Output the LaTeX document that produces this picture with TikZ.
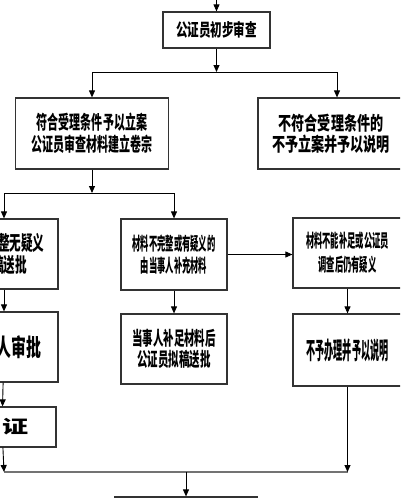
\documentclass[tikz,border=0pt]{standalone}
\usepackage{fontspec}
\usetikzlibrary{arrows.meta}
\newfontfamily\fA[FakeStretch=0.66]{Noto Sans CJK SC}
\newfontfamily\fB[FakeStretch=0.58]{Noto Sans CJK SC}
\newfontfamily\fC[FakeStretch=0.69]{Noto Sans CJK SC}
\newfontfamily\fD[FakeStretch=0.58]{Noto Sans CJK SC}
\newfontfamily\fE[FakeStretch=0.46]{Noto Sans CJK SC}
\newfontfamily\fH[FakeStretch=0.55]{Noto Sans CJK SC}
\newfontfamily\fI[FakeStretch=0.38]{Noto Sans CJK SC}
\newfontfamily\fG[FakeStretch=0.62]{Noto Sans CJK SC}
\newfontfamily\fJ[FakeStretch=1.45]{Noto Sans CJK SC}
\begin{document}
\begin{tikzpicture}[x=1pt,y=-1pt,
  box/.style={draw=black!80,line width=1.2pt,inner sep=0pt,align=center},
  conn/.style={line width=0.9pt,-{Triangle[width=6pt,length=7pt]}},
  link/.style={line width=0.9pt},
  gline/.style={line width=2pt,draw=black!55}]
\useasboundingbox (0,0) rectangle (400,498);
\clip (0,0) rectangle (400,498);
\fill[white] (0,0) rectangle (400,498);
\node[box,minimum width=107pt,minimum height=36pt,font=\fA\bfseries\fontsize{17.5pt}{20pt}\selectfont] (A) at (216.5,30) {公证员初步审查};
\node[box,minimum width=153pt,minimum height=71pt,font=\fB\bfseries\fontsize{19pt}{22pt}\selectfont] (B) at (92,133.5) {符合受理条件予以立案\\公证员审查材料建立卷宗};
\node[box,minimum width=146pt,minimum height=71pt,font=\fC\bfseries\fontsize{19pt}{21pt}\selectfont] (C) at (331,133.5) {不符合受理条件的\\不予立案并予以说明};
\node[box,minimum width=108pt,minimum height=70pt,font=\fD\bfseries\fontsize{20pt}{22pt}\selectfont] (D) at (4,254) {材料完整无疑义\\拟稿送批};
\node[box,minimum width=106pt,minimum height=71pt,font=\fE\bfseries\fontsize{18pt}{22pt}\selectfont] (E) at (174,254.5) {材料不完整或有疑义的\\由当事人补充材料};
\node[box,minimum width=109pt,minimum height=70pt,font=\fE\bfseries\fontsize{18pt}{24pt}\selectfont] (F) at (347.5,253) {材料不能补足或公证员\\调查后仍有疑义};
\node[box,minimum width=108pt,minimum height=70pt,font=\fG\bfseries\fontsize{24pt}{28pt}\selectfont] (G) at (4,347) {负责人审批};
\node[box,minimum width=106pt,minimum height=70pt,font=\fH\bfseries\fontsize{19pt}{21pt}\selectfont] (H) at (174,349) {当事人补足材料后\\公证员拟稿送批};
\node[box,minimum width=109pt,minimum height=72pt,font=\fI\bfseries\fontsize{24pt}{26pt}\selectfont] (I) at (347.5,350) {不予办理并予以说明};
\node[box,minimum width=108pt,minimum height=40pt,font=\fJ\bfseries\fontsize{18pt}{20pt}\selectfont] (J) at (2,427) {出证};
\node[box,minimum width=142pt,minimum height=40pt] (K) at (186,517) {};
% connectors
\coordinate (t0) at (216.5,0);
\coordinate (s1) at (216.5,72);
\coordinate (l1) at (92,72);
\coordinate (r1) at (337,72);
\coordinate (s2) at (92,193);
\coordinate (l2) at (4,193);
\coordinate (r2) at (174,193);
\coordinate (l3) at (4,472);
\coordinate (r3) at (347.5,472);
\coordinate (s3) at (186,472);
\draw[conn] (t0) -- (A);
\draw[conn] (A) -- (s1);
\draw[link] (l1) -- (r1);
\draw[conn] (l1) -- (B);
\draw[conn] (r1) -- (r1 |- C.north);
\draw[conn] (B) -- (s2);
\draw[link] (l2) -- (r2);
\draw[conn] (l2) -- (D);
\draw[conn] (r2) -- (E);
\draw[conn] (E.east) -- (E.east -| F.west);
\draw[conn] (D) -- (G);
\draw[conn] (E) -- (H);
\draw[conn] (F) -- (I);
\draw[conn] (G) -- (J);
\draw[gline] (l3) -- (r3);
\draw[conn] (J) -- (l3);
\draw[conn] (I) -- (r3);
\draw[conn] (s3) -- (K);
\end{tikzpicture}
\end{document}
